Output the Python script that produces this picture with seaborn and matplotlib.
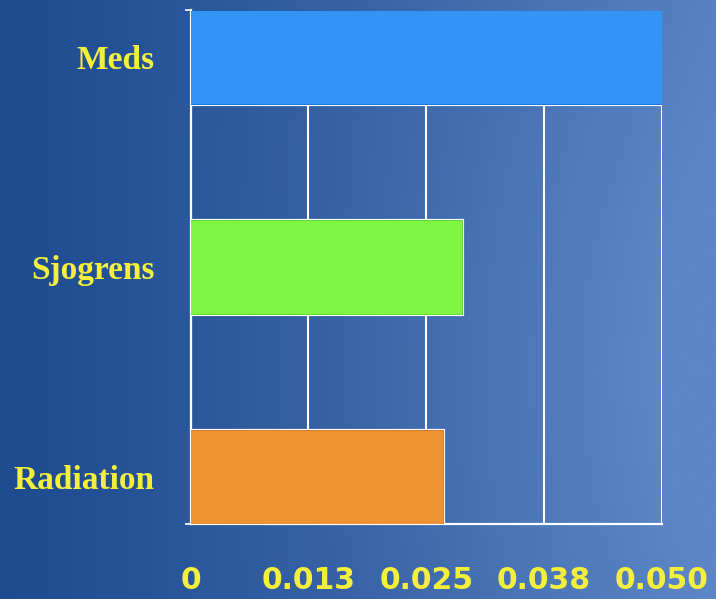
import numpy as np
import pandas as pd
import matplotlib
matplotlib.use("Agg")
import matplotlib.pyplot as plt
import matplotlib.patheffects as pe
import seaborn as sns

# Data
categories = ["Meds", "Sjogrens", "Radiation"]
values = [0.050, 0.0288, 0.0268]
tick_values = [0, 0.0125, 0.025, 0.0375, 0.05]
tick_labels = ["0", "0.013", "0.025", "0.038", "0.050"]

bar_colors = ["#3394F7", "#7DF542", "#EF9233"]
bar_edges = ["#1C73D8", "#62D82E", "#D67A22"]
label_yellow = "#F4EF3C"

sns.set_theme(style="white")

W, H, DPI = 716, 599, 100
fig = plt.figure(figsize=(W / DPI, H / DPI), dpi=DPI)

# Blue gradient backdrop over the whole figure
bg = fig.add_axes([0, 0, 1, 1], zorder=-10)
gx, gy = np.meshgrid(np.linspace(0, 1, 400), np.linspace(0, 1, 340))
left = np.array([0x1E, 0x4B, 0x90]) / 255
right = np.array([0x5C, 0x86, 0xC6]) / 255
t = np.clip(gx ** 1.1, 0, 1)
glow = np.exp(-(((gx - 1.05) / 0.45) ** 2 + ((gy - 0.62) / 0.55) ** 2))
t = np.clip(0.85 * t + 0.25 * glow, 0, 1)
img = left[None, None, :] * (1 - t[..., None]) + right[None, None, :] * t[..., None]
bg.imshow(img, aspect="auto", extent=[0, 1, 0, 1], origin="upper")
bg.set_axis_off()

ax = fig.add_axes([190.7 / W, 1 - 524 / H, 471 / W, (524 - 10.5) / H])
ax.patch.set_alpha(0)

df = pd.DataFrame({"category": categories, "value": values})
sns.barplot(data=df, x="value", y="category", hue="category",
            palette=bar_colors, saturation=1, orient="h", width=0.443,
            legend=False, ax=ax, zorder=3)

for patch, ec in zip(ax.patches, bar_edges):
    patch.set_linewidth(0)
    patch.set_path_effects([
        pe.Stroke(linewidth=3.0, foreground="white"),
        pe.Stroke(linewidth=1.4, foreground=ec),
        pe.Normal(),
    ])

half = 0.443 / 2
ax.set_xlim(0, 0.05)
ax.set_ylim(len(categories) - 1 + half, -half)

ax.set_xticks(tick_values)
ax.set_xticklabels(tick_labels)
ax.set_xlabel("")
ax.set_ylabel("")

ax.grid(axis="x", color="white", linewidth=1.5, zorder=0)
ax.grid(axis="y", visible=False)
ax.set_axisbelow(True)

for side in ["top", "right"]:
    ax.spines[side].set_visible(False)
for side in ["left", "bottom"]:
    ax.spines[side].set_color("white")
    ax.spines[side].set_linewidth(1.6)

ax.tick_params(axis="x", which="major", direction="out", length=3,
               width=1.2, color="white", pad=27, labelsize=21.5,
               labelcolor=label_yellow)
ax.tick_params(axis="y", which="major", length=0, pad=26,
               labelsize=24, labelcolor=label_yellow)
ax.set_yticks([-half, len(categories) - 1 + half], minor=True)
ax.tick_params(axis="y", which="minor", direction="out", length=4,
               width=1.2, color="white", left=True)

for lab in ax.get_xticklabels():
    lab.set_family(["DejaVu Sans"])
    lab.set_fontweight("bold")
for lab in ax.get_yticklabels():
    lab.set_family(["Liberation Serif"])
    lab.set_fontweight("bold")

fig.savefig("out.png", dpi=DPI)
